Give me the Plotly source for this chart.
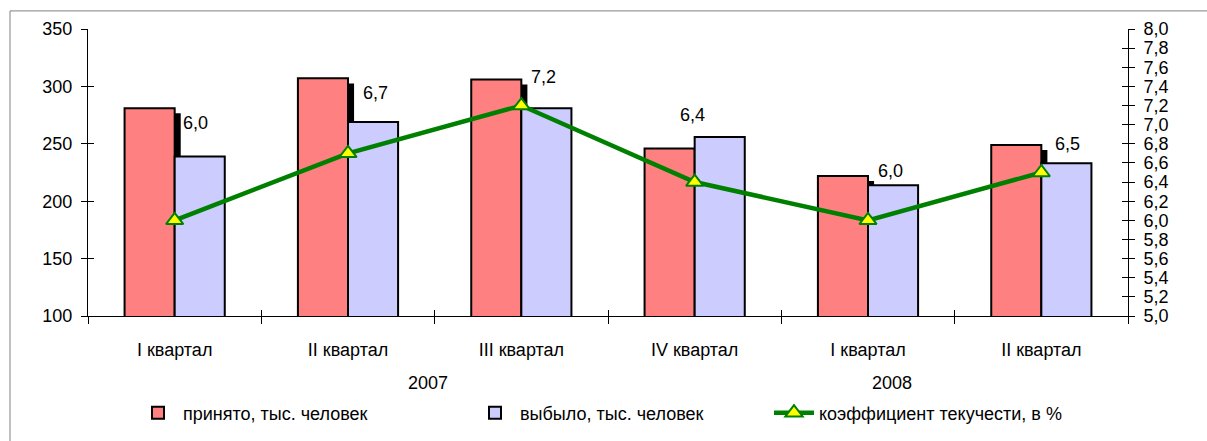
import plotly.graph_objects as go

# Quarterly staff movement, 2007–2008
quarters = ["I квартал", "II квартал", "III квартал", "IV квартал", "I квартал", "II квартал"]
years = ["2007", "2008"]
hired = [281, 307, 306, 246, 222, 249]          # принято, тыс. человек
left_staff = [239, 269, 281, 256, 214, 233]     # выбыло, тыс. человек
turnover = [6.0, 6.7, 7.2, 6.4, 6.0, 6.5]       # коэффициент текучести, %

left_ticks = [100, 150, 200, 250, 300, 350]

# label offsets (px) from each turnover point
label_dx = [21, 27, 22, -2, 22, 26]
label_dy = [97, 60, 29, 67, 49, 29]

FONT = "Liberation Sans, Arial, sans-serif"
FS = 18
RED = "#FF8080"
BLUE = "#CCCCFF"
GREEN = "#008000"

x = list(range(len(quarters)))
bw = 0.289
shadow_dx = 0.035   # category units
shadow_dy = 4.4     # left-axis units

fig = go.Figure()

# drop shadow behind the red bars
fig.add_trace(go.Bar(
    x=x, y=[v - shadow_dy for v in hired], base=0,
    width=bw, offset=-bw + shadow_dx,
    marker=dict(color="black", line=dict(width=0)),
    showlegend=False, hoverinfo="skip",
))
fig.add_trace(go.Bar(
    x=x, y=hired, width=bw, offset=-bw,
    name="принято, тыс. человек",
    marker=dict(color=RED, line=dict(color="black", width=2)),
    legend="legend",
))
fig.add_trace(go.Bar(
    x=x, y=left_staff, width=bw, offset=0,
    name="выбыло, тыс. человек",
    marker=dict(color=BLUE, line=dict(color="black", width=2)),
    legend="legend2",
))
fig.add_trace(go.Scatter(
    x=x, y=turnover, yaxis="y2", mode="lines+markers",
    name="коэффициент текучести, в %",
    line=dict(color=GREEN, width=4.5),
    marker=dict(symbol="triangle-up", size=15, color="#FFFF00",
                line=dict(color=GREEN, width=2)),
    legend="legend3",
))

# empty traces that only carry the inner halves of the crossing tick marks
fig.add_trace(go.Scatter(x=[None], y=[None], xaxis="x2", yaxis="y3",
                         mode="none", showlegend=False, hoverinfo="skip"))
fig.add_trace(go.Scatter(x=[None], y=[None], xaxis="x2", yaxis="y4",
                         mode="none", showlegend=False, hoverinfo="skip"))

annotations = []
for i, v in enumerate(turnover):
    annotations.append(dict(
        x=i, y=v, xref="x", yref="y2", yanchor="middle", xanchor="center",
        text=f"{v:.1f}".replace(".", ","), showarrow=False,
        xshift=label_dx[i], yshift=label_dy[i],
        font=dict(family=FONT, size=FS, color="black"),
    ))
for yr, xc in zip(years, [1.46, 4.14]):
    annotations.append(dict(
        x=xc, y=-0.233, xref="x", yref="paper", text=yr, showarrow=False,
        yanchor="middle", font=dict(family=FONT, size=FS, color="black"),
    ))

leg_common = dict(orientation="h", xref="container", yref="container",
                  yanchor="middle", xanchor="left", bgcolor="rgba(0,0,0,0)",
                  font=dict(family=FONT, size=FS, color="black"),
                  itemwidth=40)

inner_ticks = dict(ticks="inside", ticklen=6, tickcolor="black",
                   showticklabels=False, showgrid=False, zeroline=False,
                   showline=False, fixedrange=True)

fig.update_layout(
    width=1207, height=441,
    margin=dict(l=88, r=79, t=29, b=125),
    paper_bgcolor="white", plot_bgcolor="white",
    barmode="overlay",
    separators=", ",
    font=dict(family=FONT, size=FS, color="black"),
    xaxis=dict(
        range=[-0.5, 5.5], tickmode="array", tickvals=x, ticktext=quarters,
        ticks="", showgrid=False, zeroline=False,
        showline=True, linecolor="black", linewidth=1,
        ticklabelstandoff=17,
        minor=dict(tickmode="linear", tick0=0.5, dtick=1, ticks="outside",
                   ticklen=7, tickcolor="black", showgrid=False),
    ),
    xaxis2=dict(
        range=[-0.5, 5.5], overlaying="x", anchor="y3", side="bottom",
        tickmode="linear", tick0=0.5, dtick=1, **inner_ticks,
    ),
    yaxis=dict(
        range=[100, 350], tickmode="array", tickvals=left_ticks,
        ticks="outside", ticklen=6, tickcolor="black",
        showgrid=False, zeroline=False, ticklabelstandoff=5,
        showline=True, linecolor="black", linewidth=1,
    ),
    yaxis3=dict(
        range=[100, 350], overlaying="y", side="left", anchor="x2",
        tickmode="array", tickvals=left_ticks, **inner_ticks,
    ),
    yaxis2=dict(
        range=[5.0, 8.0], overlaying="y", side="right", dtick=0.2, tick0=5.0,
        tickformat=".1f", ticks="outside", ticklen=6, tickcolor="black",
        showgrid=False, zeroline=False, ticklabelstandoff=5,
        showline=True, linecolor="black", linewidth=1,
    ),
    yaxis4=dict(
        range=[5.0, 8.0], overlaying="y", side="right", anchor="x2",
        tickmode="linear", tick0=5.0, dtick=0.2, **inner_ticks,
    ),
    legend=dict(x=133 / 1207, y=1 - 413 / 441, **leg_common),
    legend2=dict(x=470 / 1207, y=1 - 413 / 441, **leg_common),
    legend3=dict(x=769 / 1207, y=1 - 413 / 441, **leg_common),
    annotations=annotations,
    shapes=[dict(type="rect", xref="paper", yref="paper",
                 x0=-0.075, x1=1.2, y0=-1.0, y1=1.063,
                 line=dict(color="#808080", width=1), layer="below")],
)

fig.write_html("out.html")
